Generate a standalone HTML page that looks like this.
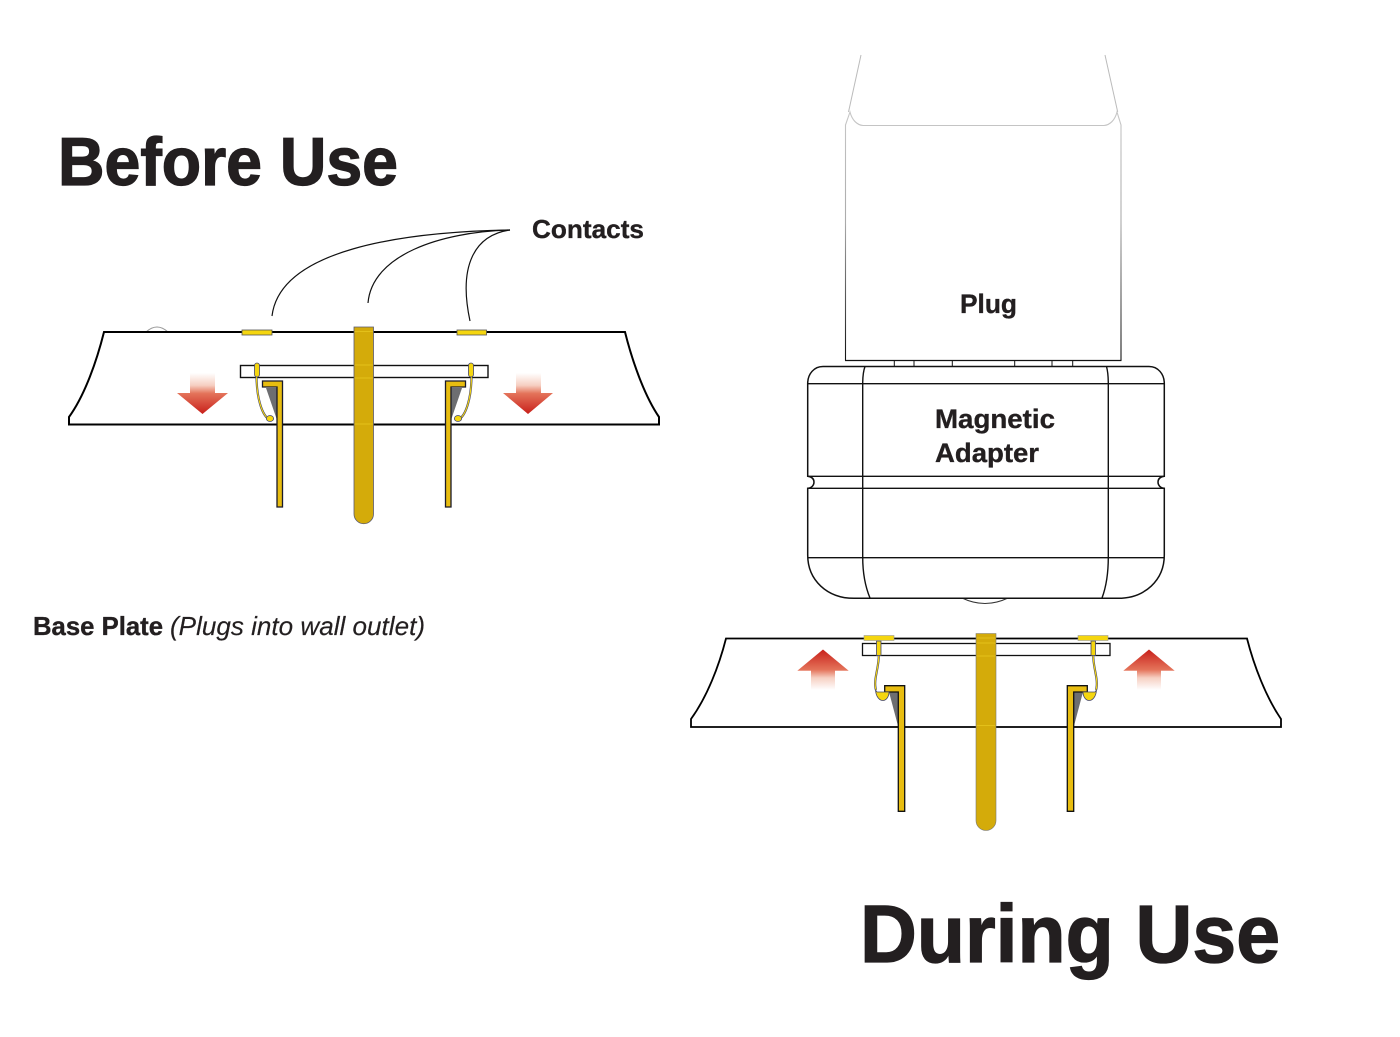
<!DOCTYPE html>
<html><head><meta charset="utf-8"><style>html,body{margin:0;padding:0;background:#fff}svg{display:block}text{font-family:"Liberation Sans",sans-serif;fill:#231f20;font-weight:bold;stroke:#231f20;stroke-width:.35px}text.t{stroke-width:1.3px}</style></head><body>
<svg width="1400" height="1037" viewBox="0 0 1400 1037" xmlns="http://www.w3.org/2000/svg">
<defs>
<linearGradient id="d" x1="0" y1="0" x2="0" y2="1"><stop offset="0" stop-color="#fff"/><stop offset=".3" stop-color="#f6cfc2"/><stop offset=".5" stop-color="#e4735a"/><stop offset="1" stop-color="#c8201a"/></linearGradient>
<linearGradient id="u" x1="0" y1="1" x2="0" y2="0"><stop offset="0" stop-color="#fff"/><stop offset=".3" stop-color="#f6cfc2"/><stop offset=".5" stop-color="#e4735a"/><stop offset="1" stop-color="#c8201a"/></linearGradient>
<linearGradient id="pl" gradientUnits="userSpaceOnUse" x1="0" y1="110" x2="0" y2="360"><stop offset="0" stop-color="#c8c8c8"/><stop offset=".45" stop-color="#aaa"/><stop offset=".75" stop-color="#555"/><stop offset="1" stop-color="#111"/></linearGradient>
</defs>

<text class="t" x="58" y="185" font-size="68" textLength="340" lengthAdjust="spacingAndGlyphs">Before Use</text>
<text class="t" x="860" y="962" font-size="82" textLength="420" lengthAdjust="spacingAndGlyphs">During Use</text>
<text x="532" y="238" font-size="26" textLength="112" lengthAdjust="spacingAndGlyphs">Contacts</text>
<text x="960" y="313" font-size="27" textLength="57" lengthAdjust="spacingAndGlyphs">Plug</text>
<text x="33" y="635" font-size="26" textLength="130" lengthAdjust="spacingAndGlyphs">Base Plate</text>
<text x="170" y="635" font-size="26" textLength="255" lengthAdjust="spacingAndGlyphs" style="font-weight:normal;font-style:italic;stroke-width:.15px">(Plugs into wall outlet)</text>

<g fill="none" stroke="#111" stroke-width="1.2">
<path d="M510 230C400 232 280 250 272 316"/>
<path d="M510 230C440 232 372 255 368 303"/>
<path d="M510 230C475 235 458 265 470 321"/>
</g>

<!-- BEFORE -->
<path d="M146 332Q157 322 168 332" fill="none" stroke="#999" stroke-width="1"/>
<path d="M69 424.500V417C85 395 97 360 104 332H625C632 360 644 395 659 417V424.500Z" fill="#fff" stroke="#000" stroke-width="2"/>
<path d="M177 393H190V373H215V393H228L202.500 414Z" fill="url(#d)"/>
<path d="M503 393H516V373H541V393H553L528 414Z" fill="url(#d)"/>
<rect x="240.500" y="365.500" width="247.500" height="12" fill="#fff" stroke="#111" stroke-width="1.400"/>
<path d="M354 327H373.500V514A9.750 9.750 0 0 1 354 514Z" fill="#d4ab0a" stroke="#5a5a70" stroke-width=".8"/>
<g stroke="#e8c820" stroke-width=".8"><path d="M354.500 331.500H373M354.500 365H373M354.500 378H373M354.500 424H373"/></g>
<rect x="242" y="330" width="30" height="5" fill="#f5d60f" stroke="#555" stroke-width=".8"/>
<rect x="457" y="330" width="29.500" height="5" fill="#f5d60f" stroke="#555" stroke-width=".8"/>
<g id="bl">
<path d="M266 388H277V420Z" fill="#6d6e71"/>
<path d="M277 387V507H282.500V381H262.500V387Z" fill="#e8bd10" stroke="#1a1a2a" stroke-width="1.300"/>
<path d="M256.500 375C256.500 398 262 416 270 420" fill="none" stroke="#44466a" stroke-width="2.200"/>
<path d="M256.500 375C256.500 398 262 416 270 420" fill="none" stroke="#f5d60f" stroke-width="1.100"/>
<ellipse cx="270" cy="418.500" rx="3.600" ry="3" fill="#f5d60f" stroke="#44466a" stroke-width=".8"/>
<rect x="254.500" y="363" width="5" height="14" rx="2.500" fill="#f5d60f" stroke="#44466a" stroke-width=".8"/>
</g>
<use href="#bl" transform="translate(728 0) scale(-1 1)"/>

<!-- PLUG -->
<g fill="none" stroke="#bbb" stroke-width="1">
<path d="M861 55L848.500 112"/><path d="M1105 55L1117.700 112"/>
</g>
<path d="M845.500 360.500V125L850 112C852 120 857 125 863 125.500H1104C1110 125 1115 120 1117 112L1121 125V360.500" fill="none" stroke="url(#pl)" stroke-width="1.100"/>
<path d="M845 360.500H1121.500" stroke="#111" stroke-width="1.300"/>
<path d="M894.300 360V366M914 360V366M952.300 360V366M1014.700 360V366M1052 360V366M1072.700 360V366" stroke="#111" stroke-width="1"/>

<!-- ADAPTER -->
<path d="M962 598Q985 609 1008 598" fill="none" stroke="#333" stroke-width="1"/>
<path d="M823 366.500H1149C1158 366.500 1164.300 374 1164.300 383.500V476.300C1160 477 1158 479 1158 482C1158 485 1160 488 1164.300 488.300V555C1164.300 580 1145 598.300 1118 598.300H854C827 598.300 807.700 580 807.700 555V488.300C812 488 814 485 814 482C814 479 812 477 807.700 476.300V383.500C807.700 374 814 366.500 823 366.500Z" fill="#fff" stroke="#111" stroke-width="1.500"/>
<path d="M808 383.700H1164M808 476.300H1164M808 488.300H1164M808 557.700H1164" stroke="#111" stroke-width="1.400" fill="none"/>
<path d="M865 366.500C863 372 862.700 378 862.700 384V557C862.700 572 865 586 870 598" fill="none" stroke="#111" stroke-width="1.400"/>
<path d="M1106.500 366.500C1108 372 1108.300 378 1108.300 384V557C1108.300 572 1106.500 586 1102 598" fill="none" stroke="#111" stroke-width="1.400"/>
<text x="935" y="428" font-size="27" textLength="120" lengthAdjust="spacingAndGlyphs">Magnetic</text>
<text x="935" y="462" font-size="27" textLength="104" lengthAdjust="spacingAndGlyphs">Adapter</text>

<!-- DURING -->
<path d="M691 727V719C707 697 719 666 726 638.500H1247C1254 666 1266 697 1281 719V727Z" fill="#fff" stroke="#000" stroke-width="1.800"/>
<path d="M797.300 670.700H811V690H835V670.700H848.700L823 649.500Z" fill="url(#u)"/>
<path d="M1123.300 670.700H1137V690H1161V670.700H1174.700L1149 649.500Z" fill="url(#u)"/>
<rect x="862.500" y="643.500" width="247.500" height="12" fill="#fff" stroke="#111" stroke-width="1.300"/>
<path d="M976 633.500H996V820.500A10 10 0 0 1 976 820.500Z" fill="#d4ab0a" stroke="#777" stroke-width=".6"/>
<path d="M976.500 638H995.500M976.500 643H995.500M976.500 656H995.500M976.500 725.500H995.500" stroke="#e8c820" stroke-width=".8"/>
<g id="br">
<path d="M889 692H898.300V727Z" fill="#6d6e71"/>
<path d="M898.300 692V811.300H904.700V685.700H884.700V692Z" fill="#e8bd10" stroke="#111" stroke-width="1.300"/>
<path d="M878.800 655C879 668 873 680 876 690" fill="none" stroke="#44466a" stroke-width="2.200"/>
<path d="M878.800 655C879 668 873 680 876 690" fill="none" stroke="#f5d60f" stroke-width="1.100"/>
<path d="M877 692H889C889 697 886 700.500 883 700.500C879.500 700.500 876 697 875.500 690Z" fill="#f5d60f" stroke="#44466a" stroke-width=".8"/>
<rect x="876.500" y="641" width="4.500" height="14.500" fill="#f5d60f" stroke="#44466a" stroke-width=".8"/>
<rect x="864" y="635.500" width="30" height="5" fill="#f5d60f" stroke="#999" stroke-width=".6"/>
</g>
<use href="#br" transform="translate(1972 0) scale(-1 1)"/>
</svg>
</body></html>
